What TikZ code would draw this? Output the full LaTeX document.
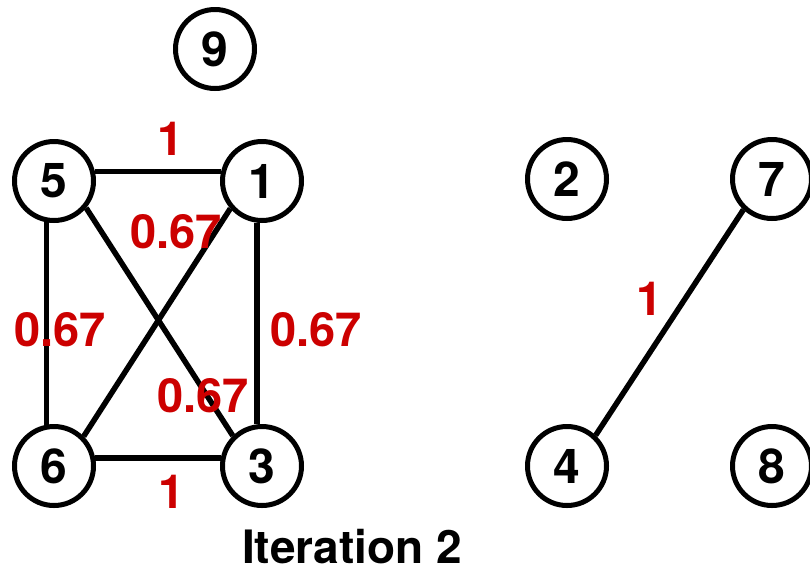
\documentclass[tikz,border=0pt]{standalone}
\usepackage{fontspec}
\setmainfont{TeX Gyre Heros}
\usetikzlibrary{positioning}
\definecolor{wred}{HTML}{CC0000}

\begin{document}
\begin{tikzpicture}[x=1pt,y=-1pt,
  vert/.style={draw, circle, line width=5pt, minimum size=79pt, inner sep=0pt,
    font=\fontsize{48}{48}\selectfont\bfseries},
  wt/.style={text=wred, inner sep=0pt, font=\fontsize{47}{47}\selectfont\bfseries},
  link/.style={line width=5.5pt}]
  \useasboundingbox (0,0) rectangle (810,574);

  % Vertices
  \node[vert] (n9) at (215,49) {9};
  \node[vert] (n5) at (54,181) {5};
  \node[vert] (n1) at (262,181) {1};
  \node[vert] (n2) at (567,179) {2};
  \node[vert] (n7) at (772,179) {7};
  \node[vert] (n6) at (54,466) {6};
  \node[vert] (n3) at (262,466) {3};
  \node[vert] (n4) at (567,466) {4};
  \node[vert] (n8) at (772,466) {8};

  % Edges
  \draw[link] (n5.13) -- (n1.167);
  \draw[link] (n5.260) -- (n6.100);
  \draw[link] (n1.263) -- (n3.97);
  \draw[link] (n6.11) -- (n3.169);
  \draw[link] (n5.320) -- (n3.134);
  \draw[link] (n1.221) -- (n6.45);
  \draw[link] (n7.227) -- (n4.47);

  % Weights
  \node[wt] (w51) at (171,139) {1};
  \node[wt] (w16) at (176,232) {0.67};
  \node[wt] (w56) at (60,330) {0.67};
  \node[wt] (w13) at (316,330) {0.67};
  \node[wt] (w53) at (203,396) {0.67};
  \node[wt] (w63) at (172,492) {1};
  \node[wt] (w74) at (650,299) {1};

  % Caption
  \node[inner sep=0pt, font=\fontsize{46}{46}\selectfont\bfseries] (cap) at (352,547) {Iteration 2};
\end{tikzpicture}
\end{document}
